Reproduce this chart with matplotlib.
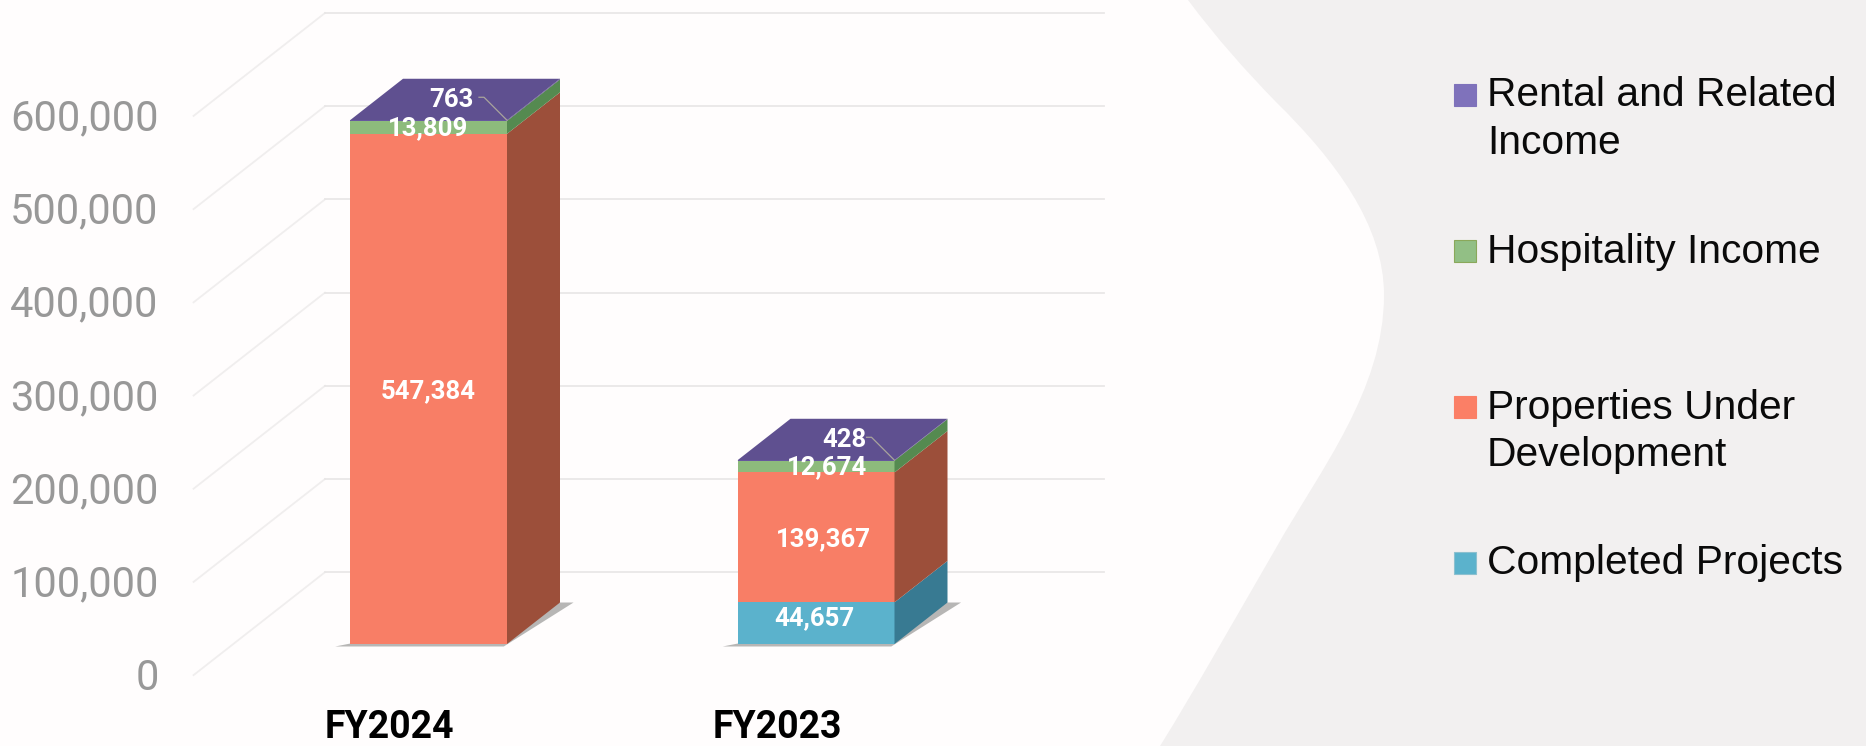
import numpy as np
import matplotlib
matplotlib.use("Agg")
import matplotlib.pyplot as plt
from matplotlib.patches import Polygon, PathPatch, Rectangle
from matplotlib.path import Path

# Data
categories = ["FY2024", "FY2023"]
completed = [0, 44657]
under_dev = [547384, 139367]
hospitality = [13809, 12674]
rental = [763, 428]
tick_values = [0, 100000, 200000, 300000, 400000, 500000, 600000]
legend_labels = ["Rental and Related\nIncome", "Hospitality Income",
                 "Properties Under\nDevelopment", "Completed Projects"]

W, H = 1866, 746

fig = plt.figure(figsize=(W / 100, H / 100), dpi=100, facecolor="#f2f0f0")

# background blob, in figure pixels (y from top)
blob = [(0, 0), (1188, 0),
        (1218, 40), (1245, 70), (1276, 102),
        (1335, 160), (1384, 225), (1384, 295),
        (1384, 390), (1320, 470), (1276, 548),
        (1240, 610), (1195, 690), (1160, 746),
        (0, 746), (0, 0)]
codes = [Path.MOVETO, Path.LINETO] + [Path.CURVE4] * 12 + [Path.LINETO, Path.CLOSEPOLY]
fig.add_artist(PathPatch(Path([(x / W, 1 - y / H) for x, y in blob], codes),
                         transform=fig.transFigure, fc="#fffdfd", ec="none", zorder=0))

ax = fig.add_axes([0, 0, 1, 1])
ax.patch.set_alpha(0)
ax.axis("off")

# scales: category 0 centre at 428.5 px, 387.5 px between categories, 93.2 px per 100k, base at 644 px
px_cat = 387.5
px_val = 93.2 / 100000
ax.set_xlim(-428.5 / px_cat, (W - 428.5) / px_cat)
ax.set_ylim(-102 / px_val, (H - 102) / px_val)

dx = 53 / px_cat      # oblique depth, one bar depth
dy = 41.5 / px_val
bar_w = 157 / px_cat
d_front, d_back = -0.75, 1.73
PT = 0.72             # one pixel in points at dpi 100


def proj(x, v, d=0.0):
    return (x + d * dx, v + d * dy)


def seg_label(xy, v, off_x, off_y):
    ax.annotate(f"{v:,}", xy=xy, xytext=(off_x * PT, off_y * PT),
                textcoords="offset points", ha="center", va="center", fontsize=18.5,
                color="white", family="Roboto", weight="bold", zorder=6)


# walls
x_wall = (325 - 428.5) / px_cat - d_back * dx
x_right = (1104 - 428.5) / px_cat - d_back * dx
for v in tick_values:
    p0, p1, p2 = proj(x_wall, v, d_front), proj(x_wall, v, d_back), proj(x_right, v, d_back)
    ax.plot(*zip(p0, p1), color="#f0eeee", lw=1.3, zorder=1)
    ax.plot(*zip(p1, p2), color="#e9e7e7", lw=1.3, zorder=1)
    ax.annotate(f"{v:,}", xy=p0, xytext=(-35 * PT, -3 * PT),
                textcoords="offset points", ha="right", va="center",
                fontsize=30, color="#989898", family="Roboto")

series = [
    (completed, "#5bb2cc", "#387a92"),
    (under_dev, "#f87e66", "#9c4f3a"),
    (hospitality, "#8dbb7c", "#558a50"),
    (rental, "#6a5ba3", "#574a85"),
]
top_col = "#5f5090"

for i in range(len(categories)):
    l, r = i - bar_w / 2, i + bar_w / 2
    # shadow on the floor
    ax.add_patch(Polygon([proj(l - 0.03, 0, -0.06), proj(r, 0, -0.06), proj(r + 0.035, 0, 1.0),
                          proj(r, 0, 1.0)], fc="#a5a5a3", ec="none", alpha=0.8, zorder=2))
    base = 0
    for vals, front, side in series:
        v = vals[i]
        if v == 0:
            continue
        ax.add_patch(Rectangle((l, base), r - l, v, fc=front, ec="none", zorder=3))
        ax.add_patch(Polygon([proj(r, base), proj(r, base + v), proj(r, base + v, 1),
                              proj(r, base, 1)], fc=side, ec="none", zorder=3))
        base += v
    ax.add_patch(Polygon([proj(l, base), proj(r, base), proj(r, base, 1), proj(l, base, 1)],
                         fc=top_col, ec="none", zorder=3))
    ax.annotate(categories[i], xy=(i, 0), xytext=(-36 * PT - 2, -84 * PT),
                textcoords="offset points", ha="center", va="center", fontsize=27,
                color="black", family="Roboto", weight="bold")

    # segment labels, anchored at the centre of their segment
    b0 = completed[i]
    b1 = b0 + under_dev[i]
    b2 = b1 + hospitality[i]
    if completed[i]:
        seg_label((i, completed[i] / 2), completed[i], -2, 5)
    seg_label((i, b0 + under_dev[i] / 2), under_dev[i], 8 * i, -2)
    seg_label((i, b1 + hospitality[i] / 2), hospitality[i], 11 * i, -1)

    # rental label sits on the top face with a leader to the front corner
    corner = (r, b2 + rental[i])
    seg_label(corner, rental[i], -56 + 6 * i, 20)
    ax.plot(*zip(corner,
                 (corner[0] - 23 / px_cat, corner[1] + 23 / px_val),
                 (corner[0] - 28 / px_cat, corner[1] + 23 / px_val)),
            color="#a9a49c", lw=0.9, zorder=5)

# legend, laid out by hand because the gaps are uneven
marker_tops = [84, 240, 396, 552]
text_centres = [119, 252, 431, 563]
marker_cols = ["#7f72bb", "#92bf85", "#fb7f66", "#5bb2cc"]
marker_edges = ["#7f72bb", "#8aa85a", "#fb7f66", "#8cc0cf"]
for top, yc, col, ec, lab in zip(marker_tops, text_centres, marker_cols, marker_edges, legend_labels):
    fig.add_artist(Rectangle((1454 / W, 1 - (top + 22) / H), 22 / W, 22 / H, transform=fig.transFigure,
                             fc=col, ec=ec, lw=0.8))
    fig.text(1487 / W, 1 - yc / H, lab, ha="left", va="center", fontsize=29.3, color="#0a0a0a",
             family="Liberation Sans", linespacing=1.3)

fig.savefig("out.png", dpi=100, facecolor=fig.get_facecolor())
